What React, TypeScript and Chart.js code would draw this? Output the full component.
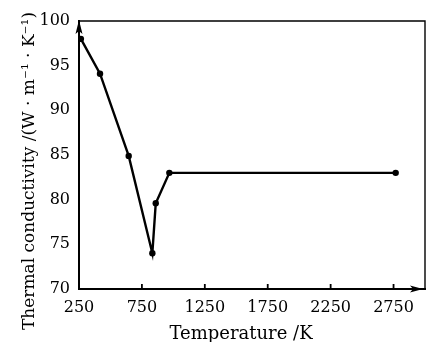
import React, { useEffect, useRef } from "react";
import { Chart, registerables } from "chart.js";

Chart.register(...registerables);

const temperature = [265, 417, 645, 833, 860, 968, 2767];
const conductivity = [98, 94.1, 84.9, 74, 79.6, 83, 83];
const xTickValues = [250, 750, 1250, 1750, 2250, 2750];
const yTickValues = [70, 75, 80, 85, 90, 95, 100];
const xTitle = "Temperature /K";
const yTitle = "Thermal conductivity /(W · m⁻¹ · K⁻¹)";

const FONT = "'DejaVu Serif', serif";

const framePlugin = {
  id: "frame",
  afterDraw(chart: any) {
    const { ctx, chartArea, scales } = chart;
    const { left, top, right, bottom } = chartArea;
    const x = scales.x;
    ctx.save();
    ctx.strokeStyle = "#000";
    ctx.fillStyle = "#000";
    ctx.lineWidth = 1.4;
    ctx.beginPath();
    ctx.moveTo(left, top);
    ctx.lineTo(right, top);
    ctx.lineTo(right, bottom);
    ctx.stroke();
    // inward ticks on x axis
    ctx.lineWidth = 1.8;
    for (const v of xTickValues) {
      if (v <= x.min) continue;
      const px = x.getPixelForValue(v);
      ctx.beginPath();
      ctx.moveTo(px, bottom);
      ctx.lineTo(px, bottom - 5);
      ctx.stroke();
    }
    // y arrow
    ctx.beginPath();
    ctx.moveTo(left, top - 1);
    ctx.lineTo(left - 3.5, top + 13);
    ctx.lineTo(left, top + 10);
    ctx.lineTo(left + 3.5, top + 13);
    ctx.closePath();
    ctx.fill();
    // x arrow
    const ax = right - 2;
    ctx.beginPath();
    ctx.moveTo(ax, bottom);
    ctx.lineTo(ax - 13, bottom - 3.5);
    ctx.lineTo(ax - 10, bottom);
    ctx.lineTo(ax - 13, bottom + 3.5);
    ctx.closePath();
    ctx.fill();
    // titles
    ctx.font = `18px ${FONT}`;
    ctx.textAlign = "center";
    ctx.textBaseline = "alphabetic";
    ctx.fillText(xTitle, 241, 339);
    ctx.translate(34, 171);
    ctx.rotate(-Math.PI / 2);
    ctx.font = `17px ${FONT}`;
    ctx.fillText(yTitle, 0, 0);
    ctx.restore();
  },
};

export default function App() {
  const ref = useRef<HTMLCanvasElement>(null);
  useEffect(() => {
    const canvas = ref.current!;
    const chart = new Chart(canvas, {
      type: "line",
      data: {
        datasets: [
          {
            data: temperature.map((t, i) => ({ x: t, y: conductivity[i] })),
            borderColor: "#000",
            backgroundColor: "#000",
            borderWidth: 2.4,
            pointRadius: 3.2,
            pointBackgroundColor: "#000",
            pointBorderWidth: 0,
            tension: 0,
          },
        ],
      },
      options: {
        animation: false,
        responsive: false,
        devicePixelRatio: 1,
        layout: { padding: { left: 0, top: 21, right: 9, bottom: 0 } },
        plugins: { legend: { display: false }, tooltip: { enabled: false } },
        scales: {
          x: {
            type: "linear",
            min: 250,
            max: 3000,
            afterBuildTicks: (s: any) => {
              s.ticks = xTickValues.map((v) => ({ value: v }));
            },
            afterFit: (s: any) => {
              s.height = 53;
            },
            grid: { display: false, drawTicks: false },
            border: { display: true, color: "#000", width: 2 },
            ticks: {
              color: "#000",
              font: { family: FONT, size: 16 },
              padding: 9,
              maxRotation: 0,
              autoSkip: false,
              callback: (v: any) => String(v),
            },
          },
          y: {
            type: "linear",
            min: 70,
            max: 100,
            afterBuildTicks: (s: any) => {
              s.ticks = yTickValues.map((v) => ({ value: v }));
            },
            afterFit: (s: any) => {
              s.width = 79;
            },
            grid: { display: false, drawTicks: false },
            border: { display: true, color: "#000", width: 2 },
            ticks: {
              color: "#000",
              font: { family: FONT, size: 16 },
              padding: 9,
              autoSkip: false,
              callback: (v: any) => String(v),
            },
          },
        },
      },
      plugins: [framePlugin],
    });
    return () => chart.destroy();
  }, []);
  return (
    <div style={{ position: "fixed", left: 0, top: 0, width: 434, height: 342, background: "#fff" }}>
      <canvas ref={ref} width={434} height={342} />
    </div>
  );
}
